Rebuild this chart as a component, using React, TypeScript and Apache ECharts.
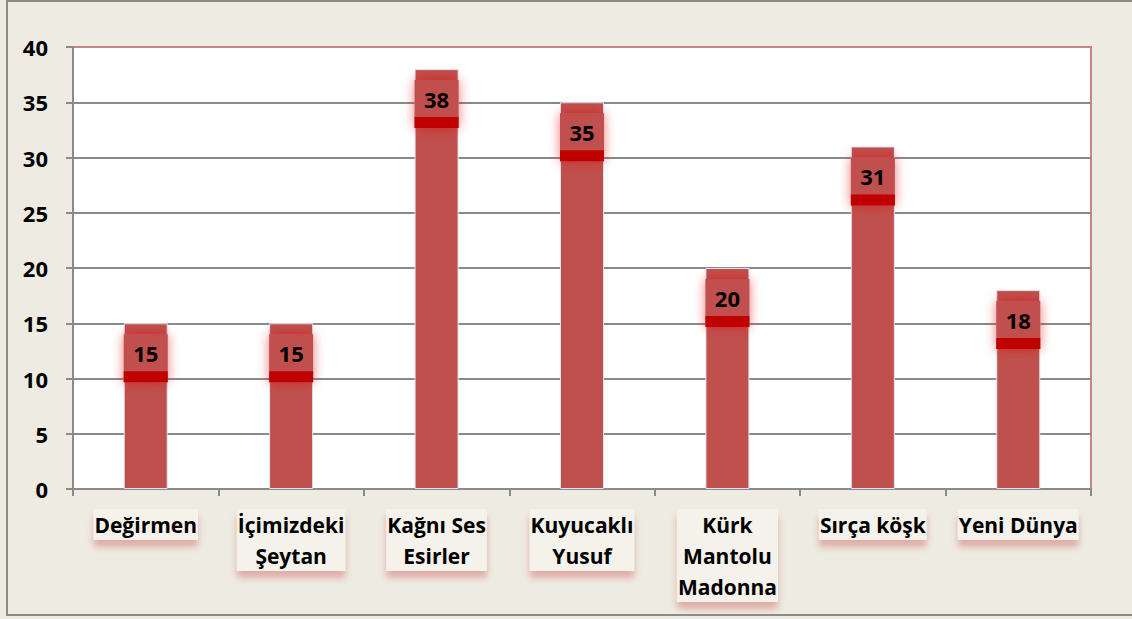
import React, { useEffect, useRef } from "react";
import * as echarts from "echarts";

const categories = [
  "Değirmen",
  "İçimizdeki\nŞeytan",
  "Kağnı Ses\nEsirler",
  "Kuyucaklı\nYusuf",
  "Kürk\nMantolu\nMadonna",
  "Sırça köşk",
  "Yeni Dünya",
];
const values = [15, 15, 38, 35, 20, 31, 18];
const yTicks = { min: 0, max: 40, interval: 5 };

const FONT = "Open Sans";

export default function App() {
  const ref = useRef<HTMLDivElement>(null);
  useEffect(() => {
    if (!ref.current) return;
    const chart = echarts.init(ref.current, undefined, { renderer: "svg" });
    const splitColors = ["#8A8A8A", "#8A8A8A", "#8A8A8A", "#8A8A8A", "#8A8A8A", "#8A8A8A", "#8A8A8A", "#8A8A8A", "#C98583"];
    chart.setOption({
      animation: false,
      backgroundColor: "#EEECE2",
      textStyle: { fontFamily: FONT },
      graphic: [
        {
          type: "rect",
          silent: true,
          z: 100,
          shape: { x: 7, y: 1, width: 1140, height: 614 },
          style: { fill: "none", stroke: "#8C8C8C", lineWidth: 2 },
        },
      ],
      grid: {
        left: 73,
        right: 41,
        top: 47,
        bottom: 130,
        show: true,
        backgroundColor: "#FFFFFF",
        borderColor: "#C98583",
        borderWidth: 2,
      },
      xAxis: {
        type: "category",
        data: categories,
        boundaryGap: true,
        axisLine: { show: true, lineStyle: { color: "#8A8A8A", width: 2 } },
        axisTick: { show: true, length: 7, alignWithLabel: false, lineStyle: { color: "#8A8A8A", width: 2 } },
        axisLabel: {
          interval: 0,
          margin: 20,
          color: "#000",
          fontFamily: FONT,
          fontWeight: "bold",
          fontSize: 21,
          lineHeight: 31,
          backgroundColor: "#F4F2EA",
          padding: [0, 1, 0, 1],
          shadowColor: "rgba(205,95,95,0.45)",
          shadowBlur: 7,
          shadowOffsetY: 7,
        },
      },
      yAxis: {
        type: "value",
        min: yTicks.min,
        max: yTicks.max,
        interval: yTicks.interval,
        axisLine: { show: true, lineStyle: { color: "#8A8A8A", width: 2 } },
        axisTick: { show: true, length: 7, lineStyle: { color: "#8A8A8A", width: 2 } },
        axisLabel: {
          margin: 25,
          color: "#000",
          fontFamily: FONT,
          fontWeight: "bold",
          fontSize: 22,
        },
        splitLine: { show: true, lineStyle: { color: splitColors, width: 2 } },
      },
      series: [
        {
          type: "bar",
          data: values,
          barWidth: 44,
          itemStyle: { color: "#C0504D", borderColor: "#DCE6F2", borderWidth: 1 },
          label: {
            show: true,
            position: "insideTop",
            distance: 11,
            formatter: (p: any) => `{v|${p.value}}\n{s| }`,
            backgroundColor: "#C0504D",
            shadowColor: "rgba(220,0,0,0.55)",
            shadowBlur: 12,
            rich: {
              v: {
                fontFamily: FONT,
                fontWeight: "bold",
                fontSize: 22,
                color: "#000",
                width: 44,
                height: 37,
                lineHeight: 37,
                align: "center",
              },
              s: {
                width: 44,
                height: 11,
                lineHeight: 11,
                backgroundColor: "#C00000",
                fontSize: 1,
              },
            },
          },
        },
      ],
    });
    return () => chart.dispose();
  }, []);
  return (
    <div
      ref={ref}
      style={{ position: "absolute", left: 0, top: 0, width: 1132, height: 619 }}
    />
  );
}
